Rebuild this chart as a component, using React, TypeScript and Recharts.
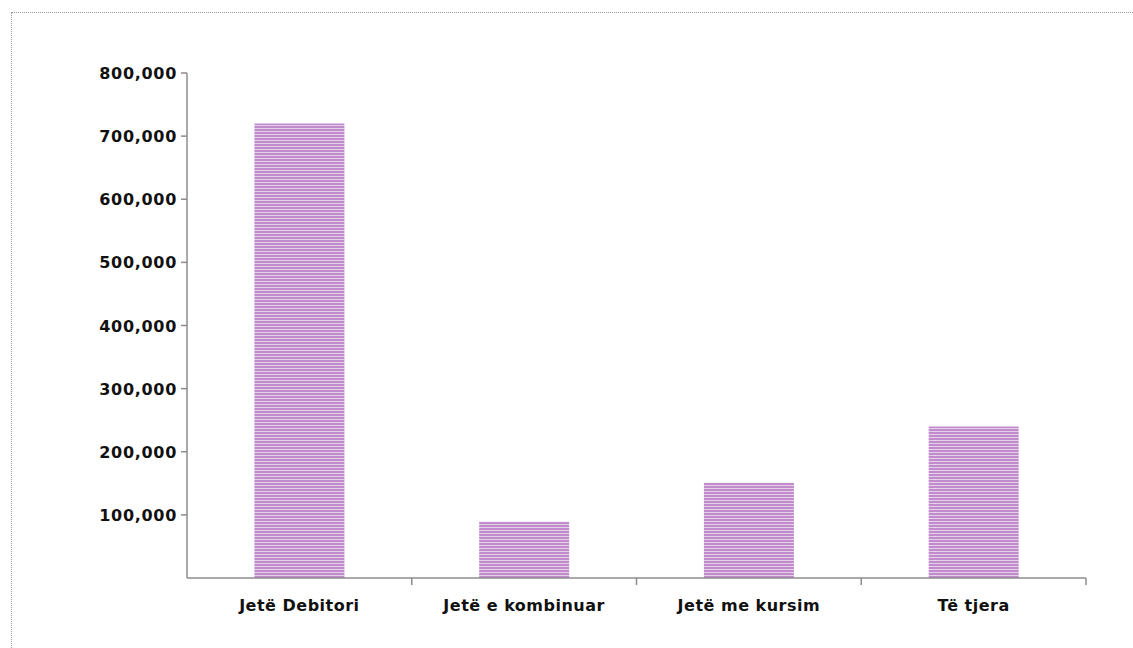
import React from "react";
import { BarChart, Bar, XAxis, YAxis } from "recharts";

const categories = ["Jetë Debitori", "Jetë e kombinuar", "Jetë me kursim", "Të tjera"];
const values = [720000, 89000, 151000, 240000];
const yTicks = [100000, 200000, 300000, 400000, 500000, 600000, 700000, 800000];

const data = categories.map((name, i) => ({ name, value: values[i] }));

const FONT = "'DejaVu Sans', Verdana, sans-serif";
const AXIS = "#8c8c8c";

const fmt = (v: number) => v.toLocaleString("en-US");

const XTick = (props: any) => {
  const { x, y, payload, width, visibleTicksCount } = props;
  const half = width / visibleTicksCount / 2;
  return (
    <g>
      <line x1={x + half} x2={x + half} y1={y - 8} y2={y - 1} stroke={AXIS} strokeWidth={1.5} />
      <text x={x} y={y + 25} textAnchor="middle" fill="#111" fontFamily={FONT} fontWeight="bold" fontSize={16} letterSpacing={0.5}>
        {payload.value}
      </text>
    </g>
  );
};

const YTick = (props: any) => {
  const { x, y, payload } = props;
  return (
    <text x={x} y={y + 6} textAnchor="end" fill="#111" fontFamily={FONT} fontWeight="bold" fontSize={16} letterSpacing={0.7}>
      {fmt(payload.value)}
    </text>
  );
};

export default function App() {
  return (
    <div style={{ position: "absolute", left: 0, top: 0, width: 1133, height: 648, overflow: "hidden", background: "#fff" }}>
      <div style={{ position: "absolute", left: 11, top: 12, width: 1400, height: 800, border: "1px dotted #9a9a9a" }} />
      <div style={{ position: "absolute", left: 0, top: 0 }}>
        <BarChart width={1133} height={648} data={data} margin={{ top: 73, right: 47, bottom: 40, left: 87 }} barCategoryGap="30%">
          <defs>
            <pattern id="stripes" width="8" height="3" patternUnits="userSpaceOnUse">
              <rect x="0" y="0" width="8" height="3" fill="#c08ccb" />
              <rect x="0" y="2" width="8" height="1" fill="#e6cdea" />
            </pattern>
          </defs>
          <XAxis
            dataKey="name"
            axisLine={{ stroke: AXIS, strokeWidth: 1.5 }}
            tickLine={false}
            tick={<XTick />}
            interval={0}
            height={30}
          />
          <YAxis
            width={100}
            domain={[0, 800000]}
            ticks={yTicks}
            axisLine={{ stroke: AXIS, strokeWidth: 1.5 }}
            tickLine={{ stroke: AXIS, strokeWidth: 1.5 }}
            tickSize={6}
            tickMargin={4}
            tick={<YTick />}
          />
          <Bar dataKey="value" fill="url(#stripes)" isAnimationActive={false} />
        </BarChart>
      </div>
    </div>
  );
}
